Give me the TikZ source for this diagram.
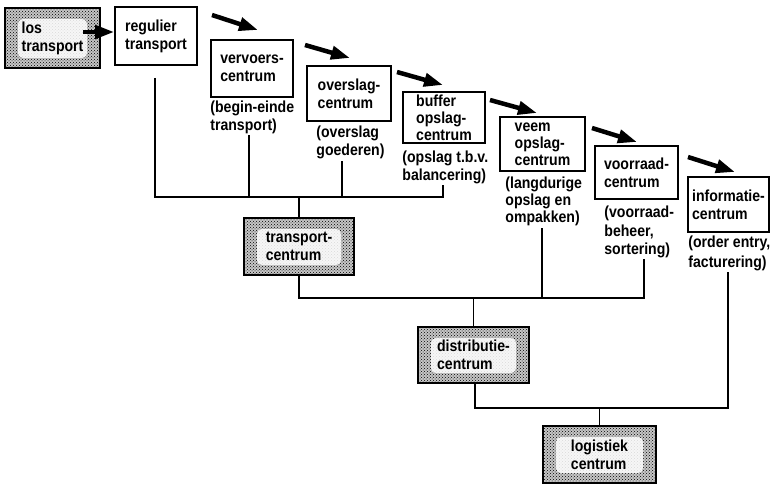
\documentclass[tikz,border=0pt]{standalone}
\usepackage{fontspec}
\setmainfont{Liberation Sans}[FakeStretch=0.88]
\usetikzlibrary{arrows.meta,patterns,calc}
\begin{document}
\begin{tikzpicture}[x=1pt,y=-1pt,
  font=\fontsize{16}{18}\selectfont\bfseries,
  box/.style={draw, line width=1.6pt, inner sep=0pt, align=left, fill=white},
  shadebox/.style={draw, line width=1.8pt, inner sep=0pt, align=left,
    preaction={fill=gray!45},
    pattern=crosshatch dots, pattern color=black,
    path picture={\fill[white, opacity=0.85, rounded corners=5pt]
      ([shift={(13pt,-11pt)}]path picture bounding box.north west) rectangle
      ([shift={(-13pt,10pt)}]path picture bounding box.south east);}},
  tight/.style={font=\fontsize{16}{17}\selectfont\bfseries},
  lab/.style={anchor=north west, inner sep=0pt, align=left},
  conn/.style={line width=1.3pt},
  bigarrow/.style={line width=4.5pt, -{Triangle[length=19pt,width=13pt]}},
]
\useasboundingbox (0,0) rectangle (774,484);

% boxes
\node[shadebox, minimum width=95pt, minimum height=60pt] (los) at (52.5,38) {los\\transport};
\node[box, minimum width=82pt, minimum height=58pt] (reg) at (156,36) {regulier\\transport};
\node[box, minimum width=82pt, minimum height=57pt] (verv) at (252,68.5) {vervoers-\\centrum};
\node[box, minimum width=84pt, minimum height=55pt] (overs) at (349,93.5) {overslag-\\centrum};
\node[box, tight, minimum width=82pt, minimum height=51pt] (buf) at (444,117.5) {buffer\\opslag-\\centrum};
\node[box, tight, minimum width=85pt, minimum height=54pt] (veem) at (542.5,144) {veem\\opslag-\\centrum};
\node[box, minimum width=83pt, minimum height=53pt] (voor) at (636.5,172.5) {voorraad-\\centrum};
\node[box, minimum width=81pt, minimum height=55pt] (info) at (728.5,204.5) {informatie-\\centrum};

\node[shadebox, minimum width=110pt, minimum height=57pt] (tc) at (299,246.5) {transport-\\centrum};
\node[shadebox, minimum width=111pt, minimum height=56pt] (dc) at (473.5,355) {distributie-\\centrum};
\node[shadebox, minimum width=113pt, minimum height=57pt] (lc) at (599.5,454.5) {logistiek\\centrum};

% labels
\node[lab] (lverv) at ([shift={(0pt,-3pt)}]verv.south west) {(begin-einde\\transport)};
\node[lab] (lovers) at ([shift={(10pt,-4pt)}]overs.south west) {(overslag\\goederen)};
\node[lab] (lbuf) at ([shift={(0pt,-7pt)}]buf.south west) {(opslag t.b.v.\\balancering)};
\node[lab, tight] (lveem) at ([shift={(6pt,-5pt)}]veem.south west) {(langdurige\\opslag en\\ompakken)};
\node[lab, font=\fontsize{16}{18.5}\selectfont\bfseries] (lvoor) at ([shift={(10pt,-6pt)}]voor.south west) {(voorraad-\\beheer,\\sortering)};
\node[lab, font=\fontsize{16}{19.5}\selectfont\bfseries] (linfo) at ([shift={(1pt,-3pt)}]info.south west) {(order entry,\\facturering)};

% tree connectors
\coordinate (b1l) at (155,197);
\coordinate (b1r) at (443,197);
\coordinate (j1) at (249,197);
\coordinate (j2) at (342,197);
\draw[conn] ([yshift=-12pt]reg.south -| b1l) -- (b1l) -- (b1r) -- ([yshift=-1pt]lbuf.south -| b1r);
\draw[conn] ([yshift=-1pt]lverv.south -| j1) -- (j1);
\draw[conn] ([yshift=-2pt]lovers.south -| j2) -- (j2);
\draw[conn] (tc.north) -- (tc.north |- b1l);

\coordinate (b2l) at (299,298);
\coordinate (b2r) at (644,298);
\coordinate (j3) at (542,298);
\draw[conn] (tc.south) -- (b2l) -- (b2r) -- ([yshift=-1pt]lvoor.south -| b2r);
\draw[conn] ([yshift=-2pt]lveem.south -| j3) -- (j3);
\draw[conn] (dc.north) -- (dc.north |- b2l);

\coordinate (b3l) at (475,408);
\coordinate (b3r) at (728,408);
\draw[conn] (dc.south -| b3l) -- (b3l) -- (b3r) -- ([yshift=-1pt]linfo.south -| b3r);
\draw[conn] (lc.north) -- (lc.north |- b3l);

% arrows
\coordinate (a0s) at (83,32);
\draw[bigarrow] (a0s) -- (reg.west |- a0s);
\coordinate (a1s) at (212,15);  \coordinate (a1e) at (258,30);
\coordinate (a2s) at (305,45);  \coordinate (a2e) at (350,58);
\coordinate (a3s) at (397,72);  \coordinate (a3e) at (443,85);
\coordinate (a4s) at (490,100); \coordinate (a4e) at (537,113);
\coordinate (a5s) at (592,128); \coordinate (a5e) at (637,142);
\coordinate (a6s) at (688,157); \coordinate (a6e) at (735,172);
\foreach \i in {1,...,6} {\draw[bigarrow] (a\i s) -- (a\i e);}
\end{tikzpicture}
\end{document}
